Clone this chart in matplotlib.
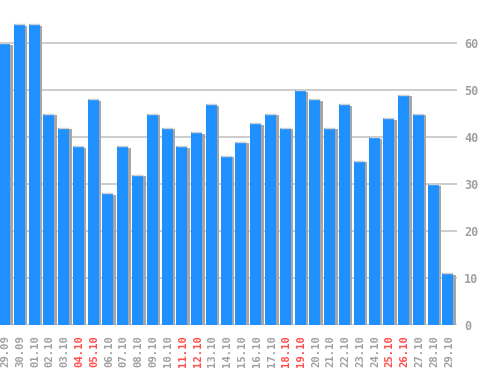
import matplotlib
matplotlib.use('Agg')
import matplotlib.pyplot as plt
import numpy as np

# dates and values
days = ['29.09', '30.09', '01.10', '02.10', '03.10', '04.10', '05.10', '06.10',
        '07.10', '08.10', '09.10', '10.10', '11.10', '12.10', '13.10', '14.10',
        '15.10', '16.10', '17.10', '18.10', '19.10', '20.10', '21.10', '22.10',
        '23.10', '24.10', '25.10', '26.10', '27.10', '28.10', '29.10']
values = [60, 64, 64, 45, 42, 38, 48, 28, 38, 32, 45, 42, 38, 41, 47, 36,
          39, 43, 45, 42, 50, 48, 42, 47, 35, 40, 44, 49, 45, 30, 11]
weekends = ['04.10', '05.10', '11.10', '12.10', '18.10', '19.10', '25.10', '26.10']
yticks = [0, 10, 20, 30, 40, 50, 60]

W, H = 498, 370
fig = plt.figure(figsize=(W / 100, H / 100), dpi=100)
fig.patch.set_facecolor('white')

# axes box in pixels: x 0..457, y 0..325 (from top)
ax = fig.add_axes([0, (H - 325) / H, 457 / W, 325 / H])
ax.set_facecolor('white')

x = np.arange(len(days))
pitch = 14.78  # px per bar
px = 1 / pitch
ax.set_xlim(-4.5 * px, (457 - 4.5) * px)
ax.set_ylim(0, 325 / 4.7)

# grid
for t in yticks:
    ax.axhline(t, color='#c4c4c4', lw=1.2, zorder=0)

# shadow, bars, top highlight
bw = 11 * px
ax.bar(x + 2.5 * px, np.array(values) - 0.35, width=bw, color='#a6a6a6', zorder=1)
ax.bar(x, values, width=bw, color='#1e90ff', zorder=2)
ax.hlines(values, x - bw / 2, x + bw / 2, colors='#d0d0d0', lw=1, zorder=3)

for s in ax.spines.values():
    s.set_visible(False)

ax.set_xticks(x + 1 * px)
ax.set_xticklabels(days, rotation=90, family='DejaVu Sans Mono',
                   fontweight='bold', fontsize=7.6)
for lab in ax.get_xticklabels():
    lab.set_color('#ff4d4d' if lab.get_text() in weekends else '#a0a0a0')
ax.tick_params(axis='x', length=0, pad=7)

ax.yaxis.tick_right()
ax.set_yticks(yticks)
ax.set_yticklabels([str(t) for t in yticks], family='DejaVu Sans Mono',
                   fontweight='bold', fontsize=8.5, color='#a0a0a0')
ax.tick_params(axis='y', length=0, pad=5)

fig.savefig('out.png', dpi=100)
